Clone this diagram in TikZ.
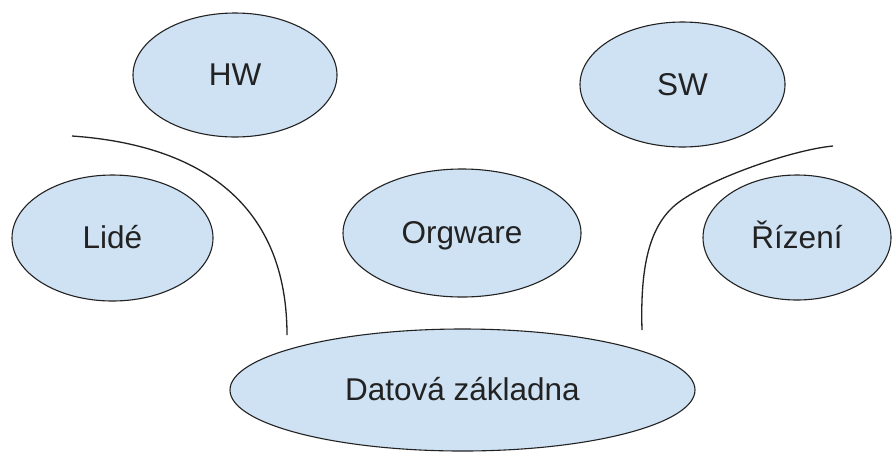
\documentclass[tikz,border=0pt]{standalone}
\usepackage{fontspec}
\setmainfont{Liberation Sans}
\usetikzlibrary{shapes.geometric}
\definecolor{bubblefill}{HTML}{CFE2F3}
\definecolor{inkline}{HTML}{222222}
\begin{document}
\begin{tikzpicture}[x=1pt,y=-1pt,
  bubble/.style={ellipse,draw=inkline,fill=bubblefill,line width=1.1pt,
    inner sep=0pt,text=inkline,font=\fontsize{31.5}{36}\selectfont,
    text height=21pt,text depth=0pt},
  divider/.style={draw=inkline,line width=1.3pt}]
  \useasboundingbox[fill=white] (0,0) rectangle (893,451);
  % topic bubbles
  \node[bubble,minimum width=204pt,minimum height=124pt] (hw) at (235,75) {HW};
  \node[bubble,minimum width=205pt,minimum height=125pt] (sw) at (682.5,84.5) {SW};
  \node[bubble,minimum width=201pt,minimum height=126pt] (lide) at (112.5,238) {Lidé};
  \node[bubble,minimum width=238pt,minimum height=128pt] (org) at (462,233) {Orgware};
  \node[bubble,minimum width=188pt,minimum height=125pt] (rizeni) at (797,237.5) {Řízení};
  \node[bubble,minimum width=465pt,minimum height=122pt] (data) at (462.5,390) {Datová základna};
  % curved dividers
  \coordinate (la) at (72,136);
  \coordinate (lb) at (287,335);
  \coordinate (ra) at (833,146);
  \coordinate (rm) at (673,207);
  \coordinate (rb) at (642,330);
  \draw[divider] (la) .. controls (202,145) and (287,205) .. (lb);
  \draw[divider] (ra) .. controls (790,150) and (700,182) .. (rm)
                      .. controls (650,228.3) and (640,265) .. (rb);
\end{tikzpicture}
\end{document}
